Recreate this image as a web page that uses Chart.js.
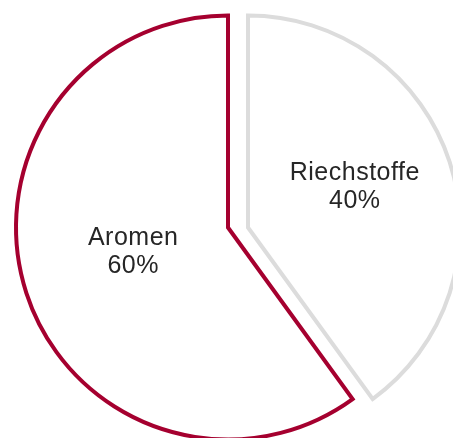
<!DOCTYPE html>
<html>
<head>
<meta charset="utf-8">
<script src="https://cdn.jsdelivr.net/npm/chart.js@4"></script>
<style>
  html, body { margin: 0; padding: 0; background: #fff; overflow: hidden; }
  #wrap { position: absolute; left: 0; top: 0; width: 476px; height: 455px; }
</style>
</head>
<body>
<div id="wrap"><canvas id="pieChart" width="476" height="455"></canvas></div>
<script>
const labels = ['Riechstoffe', 'Aromen'];
const shares = [40, 60];
const borderColors = ['#dcdcdc', '#a5002f'];
const sliceShift = [10, -10]; // slices pulled apart sideways

// moves each slice a bit so they sit apart like in the picture
const splitSlices = {
    id: 'splitSlices',
    afterDatasetUpdate(chart, args) {
        args.meta.data.forEach((arc, i) => { arc.x += sliceShift[i]; });
    }
};

// text inside the slices: name + percent
const sliceLabels = {
    id: 'sliceLabels',
    afterDatasetsDraw(chart) {
        const ctx = chart.ctx;
        const meta = chart.getDatasetMeta(0);
        ctx.save();
        ctx.font = '25px "Liberation Sans", Arial, sans-serif';
        ctx.letterSpacing = '0.5px';
        ctx.fillStyle = '#262626';
        ctx.textAlign = 'center';
        ctx.textBaseline = 'middle';
        meta.data.forEach((arc, i) => {
            const p = arc.getCenterPoint();
            const x = p.x + 6, y = p.y - 8;
            ctx.fillText(labels[i], x, y - 14);
            ctx.fillText(shares[i] + '%', x, y + 14);
        });
        ctx.restore();
    }
};

const pieChart = new Chart(document.getElementById('pieChart').getContext('2d'), {
    type: 'pie',
    data: {
        labels: labels,
        datasets: [{
            data: shares,
            backgroundColor: '#fff',
            borderColor: borderColors,
            borderWidth: 4,
            borderJoinStyle: 'miter',
            radius: 212
        }]
    },
    options: {
        responsive: false,
        animation: false,
        devicePixelRatio: 1,
        layout: { padding: 0 },
        plugins: {
            legend: { display: false },
            tooltip: { enabled: false }
        }
    },
    plugins: [splitSlices, sliceLabels]
});
</script>
</body>
</html>
